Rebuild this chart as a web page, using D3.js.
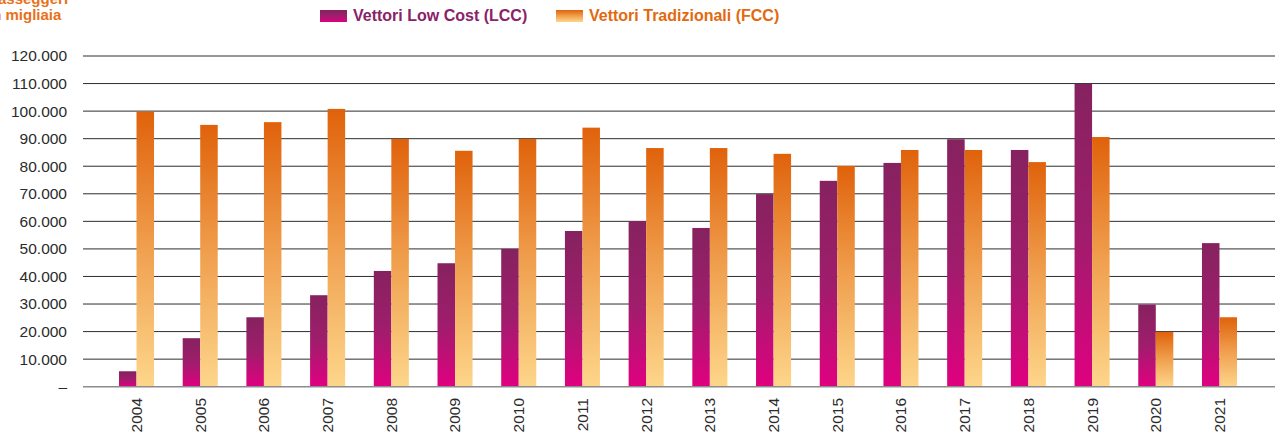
<!DOCTYPE html>
<html>
<head>
<meta charset="utf-8">
<script src="https://cdn.jsdelivr.net/npm/d3@7"></script>
<style>
  html, body { margin: 0; padding: 0; background: #fff; }
  svg { display: block; font-family: "Liberation Sans", Arial, Helvetica, sans-serif; }
</style>
</head>
<body>
<svg id="chart" width="1279" height="442"></svg>
<script>
// Passeggeri annui (migliaia) per tipologia di vettore
const years = ["2004","2005","2006","2007","2008","2009","2010","2011","2012",
               "2013","2014","2015","2016","2017","2018","2019","2020","2021"];
const lowCost = [5600, 17600, 25200, 33200, 42000, 44800, 50000, 56500, 60100,
                 57600, 69900, 74700, 81200, 89800, 85900, 109900, 29800, 52100];
const traditional = [99800, 95000, 96000, 100800, 89900, 85600, 89900, 94000, 86600,
                     86600, 84500, 80100, 85900, 85900, 81500, 90600, 19900, 25200];
const yTicks = [0, 10000, 20000, 30000, 40000, 50000, 60000, 70000, 80000, 90000, 100000, 110000, 120000];
const seriesKeys = ["lcc", "fcc"];
const seriesNames = ["Vettori Low Cost (LCC)", "Vettori Tradizionali (FCC)"];
const titleLines = ["Passeggeri", "in migliaia"];

const svg = d3.select("#chart");

// gradients for bars and legend swatches
const defs = svg.append("defs");
const grad = (id, top, mid, bottom) => {
  const g = defs.append("linearGradient").attr("id", id)
    .attr("x1", 0).attr("y1", 0).attr("x2", 0).attr("y2", 1);
  g.append("stop").attr("offset", "0%").attr("stop-color", top);
  g.append("stop").attr("offset", "50%").attr("stop-color", mid);
  g.append("stop").attr("offset", "100%").attr("stop-color", bottom);
};
grad("g-lcc", "#86225f", "#9f1d6c", "#e00080");
grad("g-fcc", "#e0620b", "#f0a04f", "#fdd68b");
const fills = { lcc: "url(#g-lcc)", fcc: "url(#g-fcc)" };

const gridLeft = 83, gridRight = 1275;

const y = d3.scaleLinear().domain([0, 120000]).range([386.7, 56]);

const x = d3.scaleBand().domain(years).range([gridLeft, 1273])
  .paddingInner(0.45).paddingOuter(0.565);
const xs = d3.scaleBand().domain(seriesKeys).range([0, x.bandwidth()]);

const fmt = v => v === 0 ? "\u2013" : d3.format(",")(v).replace(/,/g, ".");

// horizontal grid lines
svg.append("g").selectAll("line").data(yTicks.filter(v => v > 0)).join("line")
  .attr("x1", gridLeft).attr("x2", gridRight)
  .attr("y1", d => y(d)).attr("y2", d => y(d))
  .attr("stroke", "#2e2e2e").attr("stroke-width", 1);

// y tick labels
svg.append("g").selectAll("text").data(yTicks).join("text")
  .attr("x", 67).attr("y", d => y(d)).attr("dy", "0.35em")
  .attr("text-anchor", "end")
  .attr("font-size", "15.5px").attr("fill", "#2b2b2b")
  .text(fmt);

// bars
const rows = years.map((yr, i) => ({ year: yr, lcc: lowCost[i], fcc: traditional[i] }));
const groups = svg.append("g").selectAll("g").data(rows).join("g")
  .attr("transform", d => `translate(${x(d.year)},0)`);
groups.selectAll("rect")
  .data(d => seriesKeys.map(k => ({ key: k, value: d[k] })))
  .join("rect")
  .attr("x", d => xs(d.key))
  .attr("width", xs.bandwidth())
  .attr("y", d => y(d.value))
  .attr("height", d => y(0) - y(d.value))
  .attr("fill", d => fills[d.key]);

// baseline
svg.append("line")
  .attr("x1", gridLeft).attr("x2", gridRight)
  .attr("y1", y(0)).attr("y2", y(0))
  .attr("stroke", "#8c8c8c").attr("stroke-width", 1.6);

// year labels (rotated)
svg.append("g").selectAll("text").data(years).join("text")
  .attr("transform", d => `translate(${x(d) + x.bandwidth() / 2},398) rotate(-90)`)
  .attr("dy", "0.35em")
  .attr("text-anchor", "end")
  .attr("font-size", "15.5px").attr("fill", "#2b2b2b")
  .text(d => d);

// title
const title = svg.append("text").attr("x", -12).attr("y", 4)
  .attr("font-size", "15px").attr("font-weight", "bold").attr("fill", "#e8711a");
titleLines.forEach((t, i) => {
  title.append("tspan").attr("x", -12).attr("dy", i === 0 ? 0 : 16).text(t);
});

// legend
const legendX = [320, 556];
const legendColors = ["#8a2268", "#e2690f"];
const legend = svg.append("g").selectAll("g").data(seriesKeys).join("g")
  .attr("transform", (d, i) => `translate(${legendX[i]},10)`);
legend.append("rect").attr("width", 27).attr("height", 12)
  .attr("fill", d => fills[d]);
legend.append("text").attr("x", 33).attr("y", 10.8)
  .attr("font-size", "16px").attr("font-weight", "bold")
  .attr("fill", (d, i) => legendColors[i])
  .text((d, i) => seriesNames[i]);
</script>
</body>
</html>
